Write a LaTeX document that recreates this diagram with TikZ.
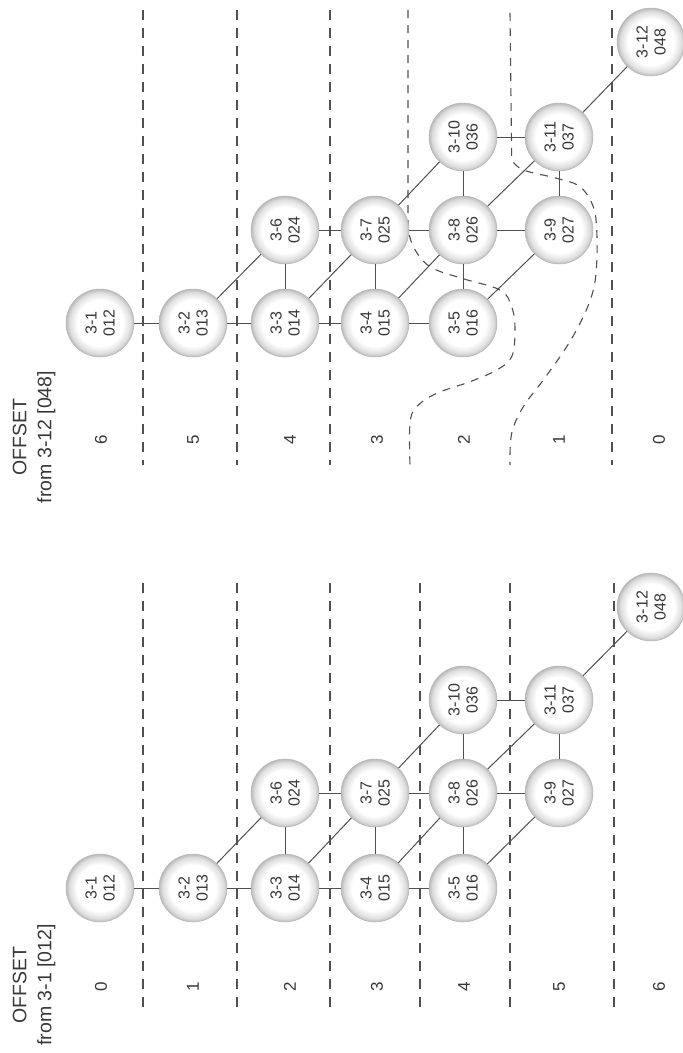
\documentclass[tikz,border=0pt]{standalone}
\usepackage{fontspec}
\setmainfont{Liberation Sans}
\definecolor{ln}{HTML}{505050}
\definecolor{tx}{HTML}{383838}
\pgfdeclareradialshading{ringshade}{\pgfpoint{0bp}{0bp}}{color(0bp)=(white); color(17bp)=(white); color(22.5bp)=(black!13); color(25bp)=(black!27); color(50bp)=(black!27)}
\tikzset{
  nd/.style={circle, minimum size=68pt, inner sep=0pt, shading=ringshade, draw=black!28, line width=0.5pt, rotate=90, align=center, font=\fontsize{16}{18}\selectfont, text=tx},
  edge/.style={draw=ln, line width=1pt},
  sep/.style={draw=ln, line width=1.1pt, dash pattern=on 10pt off 8pt},
  curvesep/.style={draw=ln, line width=1.1pt, dash pattern=on 8pt off 7pt},
  lab/.style={rotate=90, font=\fontsize{17}{20}\selectfont, text=tx},
  ttl/.style={rotate=90, align=center, font=\fontsize{19.5}{25}\selectfont, text=tx}
}
\newcommand\lattice[5]{%
  \node[nd] (#1n1)  at (100,#2) {3-1\\012};
  \node[nd] (#1n2)  at (193,#2) {3-2\\013};
  \node[nd] (#1n3)  at (285,#2) {3-3\\014};
  \node[nd] (#1n6)  at (285,#3) {3-6\\024};
  \node[nd] (#1n4)  at (375,#2) {3-4\\015};
  \node[nd] (#1n7)  at (375,#3) {3-7\\025};
  \node[nd] (#1n5)  at (463,#2) {3-5\\016};
  \node[nd] (#1n8)  at (463,#3) {3-8\\026};
  \node[nd] (#1n10) at (463,#4) {3-10\\036};
  \node[nd] (#1n9)  at (559,#3) {3-9\\027};
  \node[nd] (#1n11) at (559,#4) {3-11\\037};
  \node[nd] (#1n12) at (651,#5) {3-12\\048};
  \draw[edge] (#1n1) -- (#1n2);
  \draw[edge] (#1n2) -- (#1n3);
  \draw[edge] (#1n3) -- (#1n4);
  \draw[edge] (#1n4) -- (#1n5);
  \draw[edge] (#1n2) -- (#1n6);
  \draw[edge] (#1n3) -- (#1n6);
  \draw[edge] (#1n3) -- (#1n7);
  \draw[edge] (#1n6) -- (#1n7);
  \draw[edge] (#1n4) -- (#1n7);
  \draw[edge] (#1n4) -- (#1n8);
  \draw[edge] (#1n7) -- (#1n8);
  \draw[edge] (#1n7) -- (#1n10);
  \draw[edge] (#1n5) -- (#1n8);
  \draw[edge] (#1n5) -- (#1n9);
  \draw[edge] (#1n8) -- (#1n9);
  \draw[edge] (#1n8) -- (#1n10);
  \draw[edge] (#1n8) -- (#1n11);
  \draw[edge] (#1n10) -- (#1n11);
  \draw[edge] (#1n9) -- (#1n11);
  \draw[edge] (#1n11) -- (#1n12);
}
\begin{document}
\begin{tikzpicture}[x=1pt, y=-1pt]
\useasboundingbox (0,0) rectangle (683,1053);

% ---------- bottom panel: offset from 3-1 ----------
\foreach \x in {143,237,330,420,510,614}
  \draw[sep] (\x,583) -- (\x,1012);
\foreach \x/\t in {101/0,193/1,290/2,377/3,464/4,559/5,659/6}
  \node[lab] (bl\t) at (\x,987) {\t};
\node[ttl] (btitle) at (34,985) {OFFSET\\from 3-1 [012]};
\lattice{b}{888}{793}{700}{607}

% ---------- top panel: offset from 3-12 ----------
\foreach \x in {143,237,330,612}
  \draw[sep] (\x,10) -- (\x,465);
\draw[curvesep] (408,10) -- plot[smooth, tension=0.6] coordinates {(408,227) (413.3,246.7) (430,266.7) (461.7,278.3) (500,290) (511.7,306.7) (515,330) (511.7,356.7) (496.7,370) (470,381.7) (436.7,393.3) (416.7,406.7) (410,423.3) (410,465)};
\draw[curvesep] (510,13) -- plot[smooth, tension=0.6] coordinates {(511.7,160) (523.3,170) (556.7,178.3) (580,186.7) (593.3,206.7) (596.7,230) (596.7,263.3) (593.3,290) (583.3,316.7) (566.7,346.7) (543.3,380) (523.3,406.7) (511.7,433.3) (510,465)};
\foreach \x/\t in {101/6,193/5,290/4,377/3,464/2,559/1,659/0}
  \node[lab] (tl\t) at (\x,440) {\t};
\node[ttl] (ttitle) at (34,437) {OFFSET\\from 3-12 [048]};
\lattice{t}{323}{230}{137}{42}
\end{tikzpicture}
\end{document}
